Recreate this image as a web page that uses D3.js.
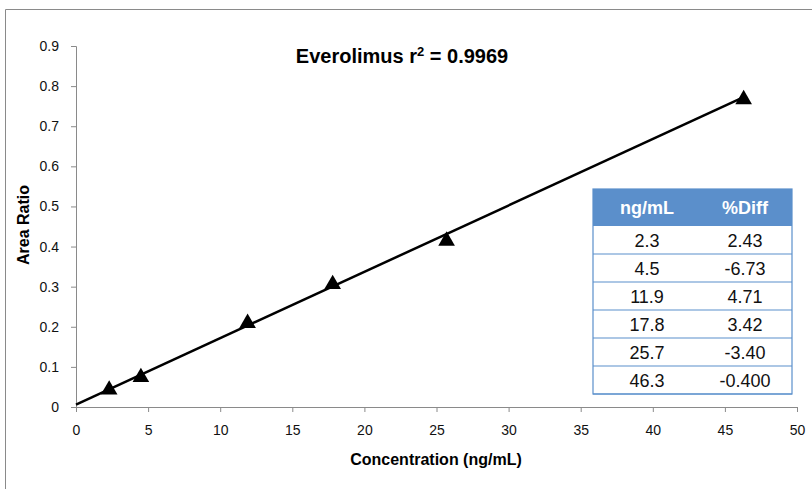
<!DOCTYPE html>
<html><head><meta charset="utf-8">
<script src="https://cdnjs.cloudflare.com/ajax/libs/d3/7.8.5/d3.min.js"></script>
<style>body{margin:0;background:#fff}svg{display:block}text{font-family:"Liberation Sans",Arial,sans-serif}</style>
</head><body>
<script>
const concentrations = [2.3, 4.5, 11.9, 17.8, 25.7, 46.3];
const areaRatios = [0.043, 0.074, 0.209, 0.306, 0.414, 0.767];
const fitSlope = 0.01655;
const fitIntercept = 0.006;
const xTicks = [0,5,10,15,20,25,30,35,40,45,50];
const yTicks = [0,0.1,0.2,0.3,0.4,0.5,0.6,0.7,0.8,0.9];
const tableHeader = ["ng/mL", "%Diff"];
const tableConc = ["2.3","4.5","11.9","17.8","25.7","46.3"];
const tableDiff = ["2.43","-6.73","4.71","3.42","-3.40","-0.400"];

const W=812,H=489;
const svg=d3.select("body").append("svg").attr("width",W).attr("height",H);
svg.append("path").attr("d","M5.5,489 V9.5 H812").attr("fill","none").attr("stroke","#8a8a8a").attr("stroke-width",1);

const x=d3.scaleLinear().domain([0,50]).range([76,797]);
const y=d3.scaleLinear().domain([0,0.9]).range([407,46]);

const gx=svg.append("g").attr("transform","translate(0,407)")
  .call(d3.axisBottom(x).tickValues(xTicks).tickSize(5).tickPadding(13).tickFormat(d3.format("d")));
const gy=svg.append("g").attr("transform","translate(76,0)")
  .call(d3.axisLeft(y).tickValues(yTicks).tickSize(5).tickPadding(12).tickFormat(d=>d===0?"0":d3.format(".1f")(d)));
[gx,gy].forEach(g=>{
  g.attr("font-size",14).attr("font-family","Liberation Sans, Arial, sans-serif");
  g.selectAll("path,line").attr("stroke","#8a8a8a");
  g.selectAll("text").attr("fill","#111");
});

svg.append("line").attr("x1",x(0)).attr("y1",y(fitIntercept))
  .attr("x2",x(concentrations[concentrations.length-1])).attr("y2",y(fitIntercept+fitSlope*concentrations[concentrations.length-1]))
  .attr("stroke","#000").attr("stroke-width",2.5);

svg.selectAll(".pt").data(concentrations.map((c,i)=>[c,areaRatios[i]])).enter().append("path")
  .attr("d",d3.symbol().type(d3.symbolTriangle).size(120))
  .attr("transform",d=>`translate(${x(d[0])},${y(d[1])})`).attr("fill","#000");

svg.append("text").attr("x",402).attr("y",63).attr("text-anchor","middle").attr("font-size",20).attr("font-weight","bold")
  .html('Everolimus r<tspan font-size="13" dy="-7">2</tspan><tspan dy="7"> = 0.9969</tspan>');
svg.append("text").attr("transform","translate(29,225) rotate(-90)").attr("text-anchor","middle").attr("font-size",16).attr("font-weight","bold").text("Area Ratio");
svg.append("text").attr("x",436).attr("y",465).attr("text-anchor","middle").attr("font-size",16).attr("font-weight","bold").text("Concentration (ng/mL)");

// table
const tx0=593,tx1=792,ty0=189,hh=37,rh=28;
const cols=[647,745];
const blue="#5b8fcb";
svg.append("rect").attr("x",tx0).attr("y",ty0).attr("width",tx1-tx0).attr("height",hh).attr("fill",blue);
tableHeader.forEach((t,i)=>svg.append("text").attr("x",cols[i]).attr("y",ty0+hh/2+6.5).attr("text-anchor","middle")
  .attr("font-size",18).attr("font-weight","bold").attr("fill","#fff").text(t));
tableConc.forEach((c,r)=>{
  const yy=ty0+hh+rh*r;
  svg.append("line").attr("x1",tx0).attr("x2",tx1).attr("y1",yy+rh).attr("y2",yy+rh).attr("stroke",blue).attr("stroke-width",1.2);
  [c,tableDiff[r]].forEach((t,i)=>svg.append("text").attr("x",cols[i]).attr("y",yy+rh/2+6.5).attr("text-anchor","middle")
    .attr("font-size",18).attr("fill","#111").text(t));
});
svg.append("rect").attr("x",tx0).attr("y",ty0).attr("width",tx1-tx0).attr("height",hh+rh*6).attr("fill","none").attr("stroke",blue).attr("stroke-width",1.2);
</script>
</body></html>
